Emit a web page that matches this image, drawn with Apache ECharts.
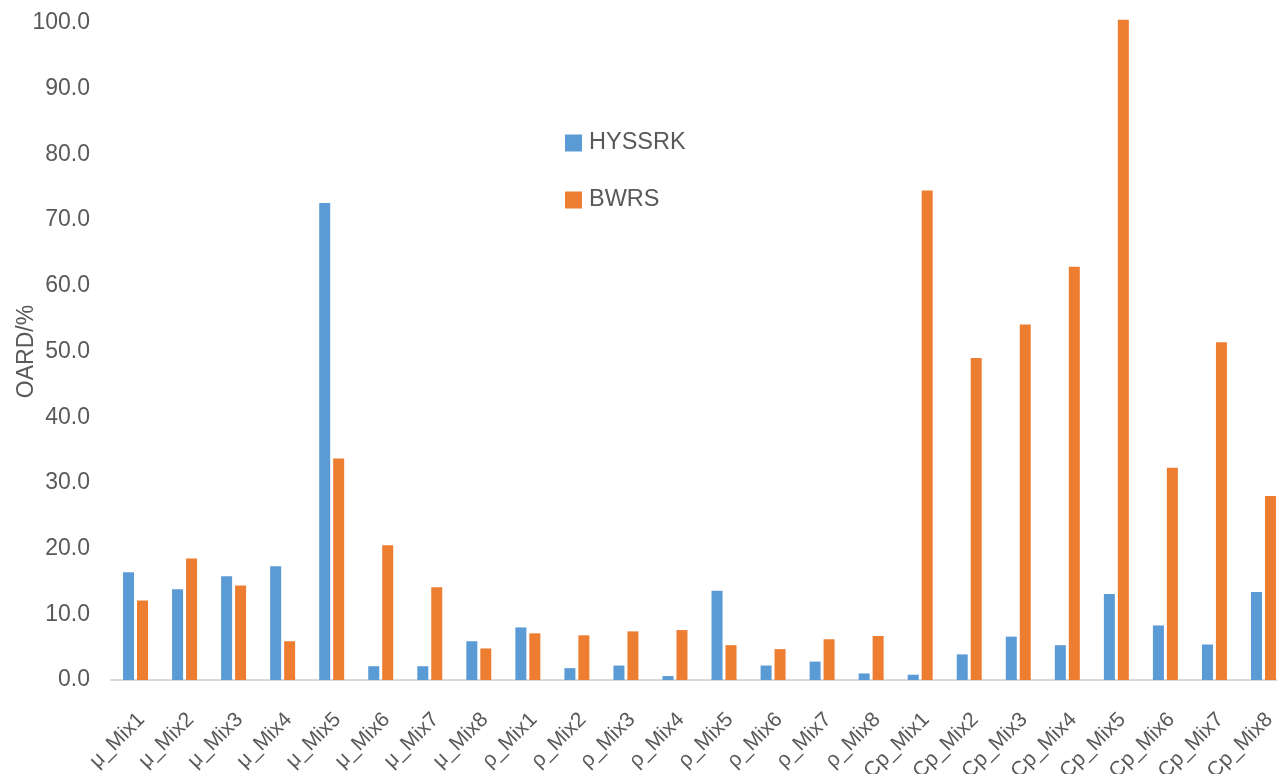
<!DOCTYPE html>
<html>
<head>
<meta charset="utf-8">
<script src="https://cdn.jsdelivr.net/npm/echarts@6/dist/echarts.min.js"></script>
<style>
html,body{margin:0;padding:0;background:#fff;}
#chart{width:1277px;height:774px;}
</style>
</head>
<body>
<div id="chart"></div>
<script>
const categories = [
  'μ_Mix1','μ_Mix2','μ_Mix3','μ_Mix4','μ_Mix5','μ_Mix6','μ_Mix7','μ_Mix8',
  'ρ_Mix1','ρ_Mix2','ρ_Mix3','ρ_Mix4','ρ_Mix5','ρ_Mix6','ρ_Mix7','ρ_Mix8',
  'Cp_Mix1','Cp_Mix2','Cp_Mix3','Cp_Mix4','Cp_Mix5','Cp_Mix6','Cp_Mix7','Cp_Mix8'
];
const hyssrk = [16.4, 13.8, 15.8, 17.3, 72.6, 2.1, 2.1, 5.9,
                8.0, 1.8, 2.2, 0.6, 13.6, 2.2, 2.8, 1.0,
                0.8, 3.9, 6.6, 5.3, 13.1, 8.3, 5.4, 13.4];
const bwrs = [12.1, 18.5, 14.4, 5.9, 33.7, 20.5, 14.1, 4.8,
              7.1, 6.8, 7.4, 7.6, 5.3, 4.7, 6.2, 6.7,
              74.5, 49.0, 54.1, 62.9, 100.5, 32.3, 51.4, 28.0];
const seriesNames = ['HYSSRK', 'BWRS'];
const yAxisName = 'OARD/%';

const FONT = '"Liberation Sans", Arial, sans-serif';
const TXT = '#595959';

const chart = echarts.init(document.getElementById('chart'));
chart.setOption({
  animation: false,
  backgroundColor: '#ffffff',
  textStyle: { fontFamily: FONT },
  grid: { left: 111, right: -11, top: 23, bottom: 94, containLabel: false, outerBoundsMode: 'none' },
  legend: {
    orient: 'vertical',
    left: 560,
    top: 126,
    itemWidth: 17,
    itemHeight: 17,
    itemGap: 33,
    icon: 'rect',
    textStyle: { fontSize: 23.5, color: TXT, fontFamily: FONT, padding: [0, 0, 0, 2] },
    data: seriesNames
  },
  xAxis: {
    type: 'category',
    data: categories,
    axisLine: { lineStyle: { color: '#D9D9D9', width: 2 } },
    axisTick: { show: false },
    axisLabel: { rotate: 45, interval: 0, fontSize: 21, color: TXT, fontFamily: FONT,
                 margin: 12, align: 'right', verticalAlign: 'top', padding: [11, 13, 0, 0] }
  },
  yAxis: {
    type: 'value',
    min: 0, max: 100, interval: 10,
    name: yAxisName,
    nameLocation: 'middle',
    nameGap: 73,
    nameMoveOverlap: false,
    nameTextStyle: { fontSize: 23, color: TXT, fontFamily: FONT },
    axisLine: { show: false },
    axisTick: { show: false },
    splitLine: { show: false },
    axisLabel: { fontSize: 23, color: TXT, fontFamily: FONT, margin: 21, formatter: v => v.toFixed(1) }
  },
  series: [
    { name: seriesNames[0], type: 'bar', data: hyssrk, barWidth: 11, barGap: '27%', clip: false,
      itemStyle: { color: '#5B9BD5' } },
    { name: seriesNames[1], type: 'bar', data: bwrs, barWidth: 11, barGap: '27%', clip: false,
      itemStyle: { color: '#ED7D31' } }
  ]
});
</script>
</body>
</html>
